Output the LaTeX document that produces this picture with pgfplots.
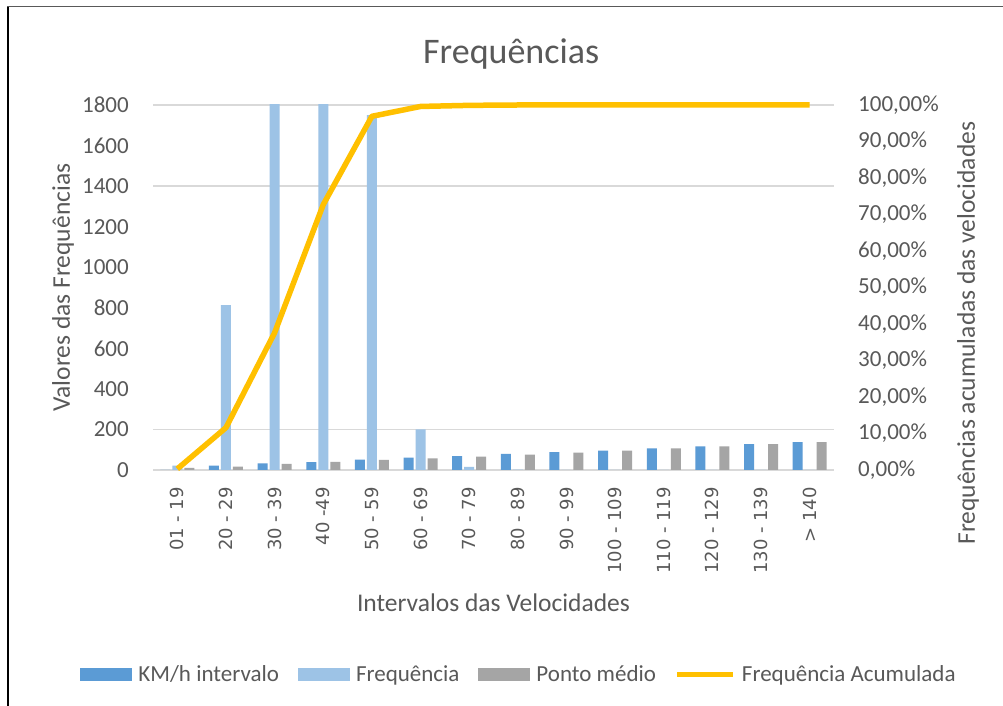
\documentclass[border=0pt]{standalone}
\usepackage{pgfplots}
\pgfplotsset{compat=1.18}
\usepackage{fontspec}
\setmainfont{Carlito}
\newfontfamily\dejavu{DejaVu Sans}
\definecolor{txt}{HTML}{595959}
\definecolor{gridc}{HTML}{D9D9D9}
\definecolor{kmblue}{HTML}{5B9BD5}
\definecolor{freqblue}{HTML}{9DC3E6}
\definecolor{pmgrey}{HTML}{A5A5A5}
\definecolor{cumorange}{HTML}{FFC000}
\newcommand{\fs}[1]{\fontsize{#1}{#1}\selectfont}

\begin{document}
\begin{tikzpicture}
\useasboundingbox (0pt,0pt) rectangle (1003pt,706pt);
\fill[white] (0pt,0pt) rectangle (1003pt,706pt);
\draw[black, line width=1.4pt] (8pt,0pt) -- (8pt,700pt);
\draw[txt, line width=1.4pt] (7.3pt,699.5pt) -- (1003pt,699.5pt);

\begin{axis}[
  at={(153pt,236pt)}, anchor=south west,
  scale only axis, width=681pt, height=365pt,
  xmin=-0.5, xmax=13.5, ymin=0, ymax=1800,
  axis x line*=bottom, axis y line*=left,
  axis line style={draw=none}, major tick length=0pt,
  xtick={0,...,13},
  xticklabels={01 - 19, 20 - 29, 30 - 39, 40 -49, 50 - 59, 60 - 69, 70 - 79, 80 - 89, 90 - 99, 100 - 109, 110 - 119, 120 - 129, 130 - 139, > 140},
  xticklabel style={rotate=90, anchor=east, inner sep=0pt, font=\dejavu\fs{18}, text=txt},
  xticklabel shift=17pt,
  ytick={0,200,...,1800},
  /pgf/number format/1000 sep={},
  /pgf/number format/assume math mode=true,
  yticklabel style={inner sep=0pt, font=\fs{23}, text=txt},
  yticklabel shift=24pt,
  extra y ticks={0,200,1400,1800}, extra y tick labels={},
  extra y tick style={grid=major, major grid style={gridc, line width=1.5pt}},
  title={Frequências},
  title style={at={(axis description cs:0.526,1.123)}, anchor=center, font=\fs{36}, text=txt},
  xlabel={Intervalos das Velocidades},
  xlabel style={at={(axis description cs:0.5,-0.364)}, anchor=center, font=\fs{25.5}, text=txt},
  ylabel={Valores das Frequências},
  ylabel style={at={(axis description cs:-0.132,0.5)}, anchor=center, font=\fs{25.5}, text=txt},
  legend columns=4,
  legend cell align=left,
  legend style={at={(axis description cs:0.5375,-0.559)}, anchor=center, draw=none, fill=none,
    font=\fs{23}, text=txt, nodes={inner sep=2pt},
    /tikz/every odd column/.append style={column sep=4pt},
    /tikz/every even column/.append style={column sep=17pt}},
]
\addplot[ybar, bar width=10pt, bar shift=-12pt, fill=kmblue, draw=none,
  legend image code/.code={\fill[kmblue] (0pt,-6.5pt) rectangle (52pt,6.5pt);}]
  coordinates {(0,1) (1,21) (2,33) (3,39) (4,51) (5,61) (6,69) (7,79) (8,88) (9,95) (10,107) (11,116) (12,127) (13,138)};
\addlegendentry{KM/h intervalo}
\addplot[ybar, bar width=10pt, bar shift=0pt, fill=freqblue, draw=none,
  legend image code/.code={\fill[freqblue] (0pt,-6.5pt) rectangle (52pt,6.5pt);}]
  coordinates {(0,22) (1,813) (2,1870) (3,2530) (4,1750) (5,200) (6,15) (7,2) (8,1) (9,0) (10,0) (11,0) (12,0) (13,0)};
\addlegendentry{Frequência}
\addplot[ybar, bar width=10pt, bar shift=12pt, fill=pmgrey, draw=none,
  legend image code/.code={\fill[pmgrey] (0pt,-6.5pt) rectangle (52pt,6.5pt);}]
  coordinates {(0,10) (1,17) (2,30) (3,40) (4,50) (5,57) (6,66) (7,76) (8,86) (9,95) (10,107) (11,116) (12,127) (13,138)};
\addlegendentry{Ponto médio}
\addlegendimage{legend image code/.code={\draw[cumorange, line width=5pt] (0pt,0pt) -- (56pt,0pt);}}
\addlegendentry{Frequência Acumulada}
\end{axis}

\begin{axis}[
  at={(153pt,236pt)}, anchor=south west,
  scale only axis, width=681pt, height=365pt,
  xmin=-0.5, xmax=13.5, ymin=0, ymax=100,
  axis y line*=right, axis x line=none,
  axis line style={draw=none}, major tick length=0pt,
  ytick={0,10,...,100},
  yticklabels={{0,00\%},{10,00\%},{20,00\%},{30,00\%},{40,00\%},{50,00\%},{60,00\%},{70,00\%},{80,00\%},{90,00\%},{100,00\%}},
  yticklabel style={inner sep=0pt, font=\fs{23}, text=txt},
  yticklabel shift=24pt,
  ylabel={Frequências acumuladas das velocidades},
  ylabel style={at={(axis description cs:1.197,0.375)}, anchor=center, font=\fs{25.5}, text=txt},
  clip=false,
]
\addplot[cumorange, line width=5.5pt, line join=round, mark=none]
  coordinates {(0,0.3) (1,11.6) (2,37.6) (3,72.7) (4,96.9) (5,99.6) (6,99.9) (7,100) (8,100) (9,100) (10,100) (11,100) (12,100) (13,100)};
\end{axis}
\end{tikzpicture}
\end{document}
